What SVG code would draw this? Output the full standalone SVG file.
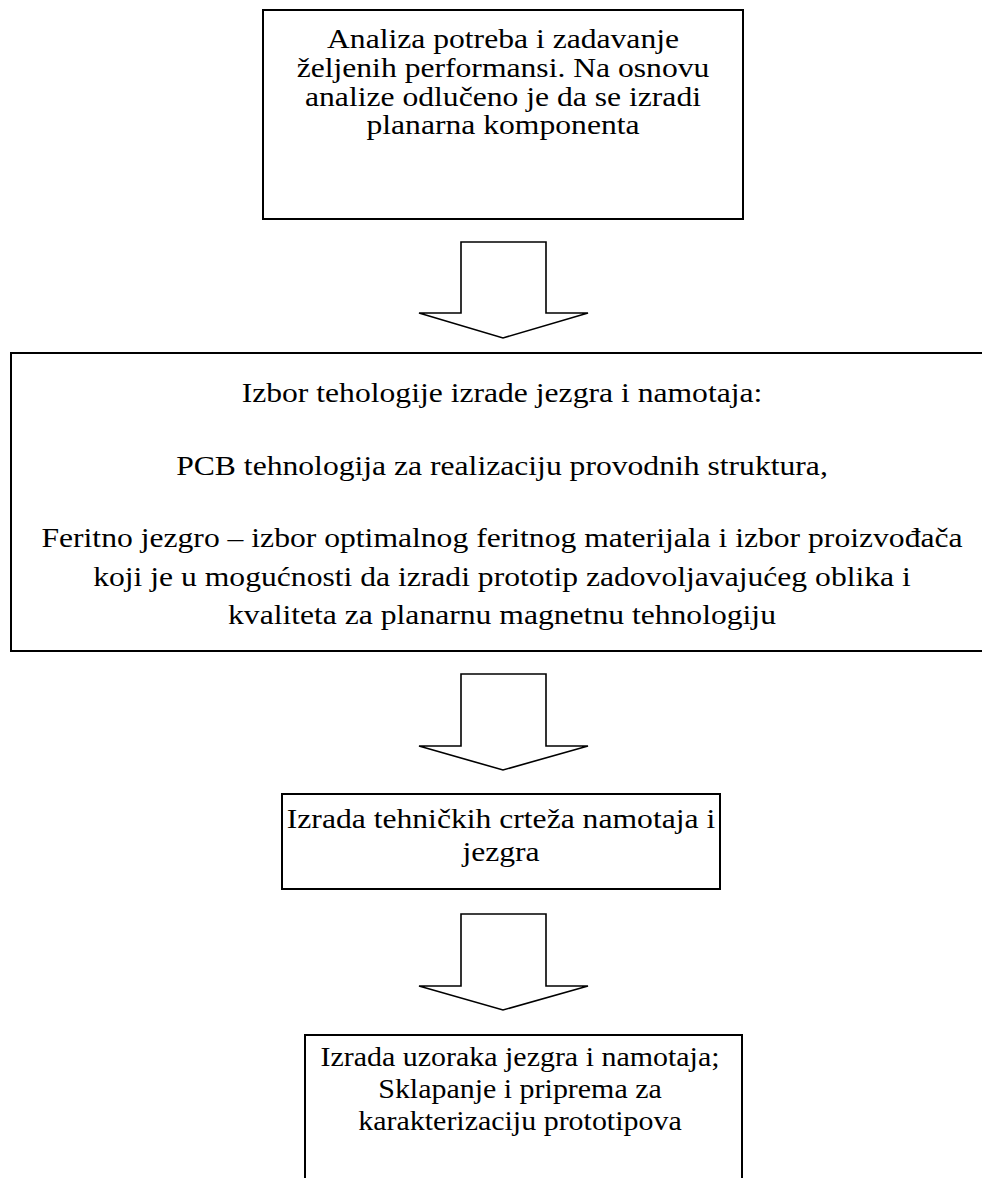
<svg xmlns="http://www.w3.org/2000/svg" width="982" height="1178" viewBox="0 0 982 1178">
<style>
.box{fill:#fff;stroke:#000;stroke-width:2}
.arr{fill:#fff;stroke:#000;stroke-width:1.6;stroke-linejoin:miter}
text{font-family:"Liberation Serif","Times New Roman",serif;font-size:28px;fill:#000;text-anchor:middle}
</style>
<rect width="982" height="1178" fill="#fff"/>
<g id="connectors">
<polygon class="arr" points="461,242 546,242 546,313 588,313 503,338 419,313 461,313"/>
<polygon class="arr" points="461,674 546,674 546,746 588,746 503,770 419,746 461,746"/>
<polygon class="arr" points="461,914 546,914 546,986 588,986 503,1010 419,986 461,986"/>
</g>
<g id="node1">
<rect class="box" x="263" y="10" width="480" height="209"/>
<g transform="translate(503,0) scale(1.13,1)">
<text x="0" y="48">Analiza potreba i zadavanje</text>
<text x="0" y="77">željenih performansi. Na osnovu</text>
<text x="0" y="106">analize odlučeno je da se izradi</text>
<text x="0" y="134">planarna komponenta</text>
</g>
</g>
<g id="node2">
<rect class="box" x="11" y="353" width="975" height="298"/>
<g transform="translate(502,0) scale(1.13,1)">
<text x="0" y="402">Izbor tehologije izrade jezgra i namotaja:</text>
<text x="0" y="475">PCB tehnologija za realizaciju provodnih struktura,</text>
<text x="0" y="547">Feritno jezgro – izbor optimalnog feritnog materijala i izbor proizvođača</text>
<text x="0" y="586">koji je u mogućnosti da izradi prototip zadovoljavajućeg oblika i</text>
<text x="0" y="624">kvaliteta za planarnu magnetnu tehnologiju</text>
</g>
</g>
<g id="node3">
<rect class="box" x="282" y="794" width="438" height="95"/>
<g transform="translate(501,0) scale(1.13,1)">
<text x="0" y="828">Izrada tehničkih crteža namotaja i</text>
<text x="0" y="861">jezgra</text>
</g>
</g>
<g id="node4">
<rect class="box" x="305" y="1035" width="437" height="200"/>
<g transform="translate(520,0) scale(1.07,1)">
<text x="0" y="1066">Izrada uzoraka jezgra i namotaja;</text>
<text x="0" y="1098">Sklapanje i priprema za</text>
<text x="0" y="1130">karakterizaciju prototipova</text>
</g>
</g>
</svg>
